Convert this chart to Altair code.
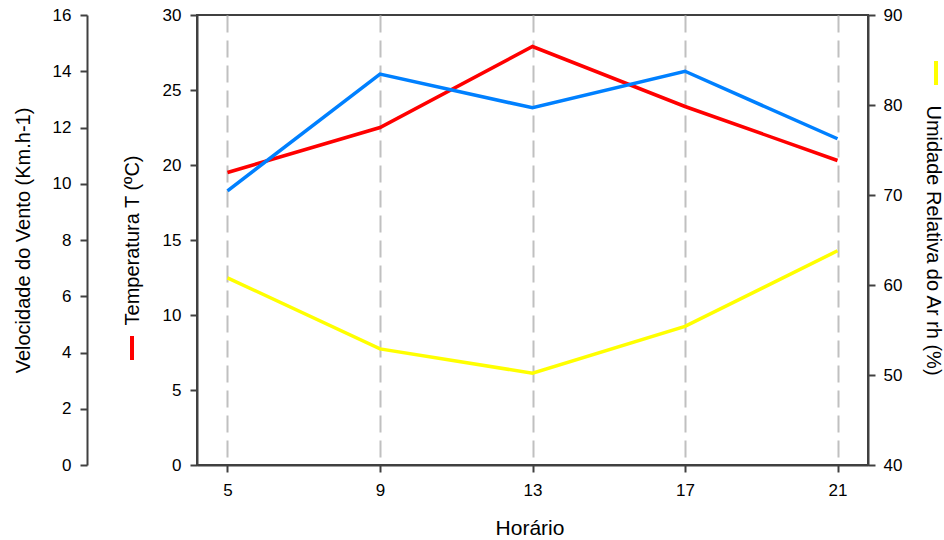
import altair as alt
import pandas as pd

# Hourly readings
horario = [5, 9, 13, 17, 21]
temperatura = [19.5, 22.5, 27.9, 23.9, 20.3]     # T (ºC)
vento = [9.75, 13.9, 12.7, 14.0, 11.6]           # wind speed (Km.h-1)
umidade = [60.8, 52.9, 50.2, 55.4, 63.8]         # relative humidity (%)

df = pd.DataFrame({"horario": horario, "temp": temperatura,
                   "vento": vento, "ur": umidade})

FONT = "Liberation Sans"
AXIS_COLOR = "#404040"

W, H = 671, 450

x_enc = alt.X(
    "horario:Q",
    scale=alt.Scale(domain=[4.2, 21.8], nice=False, zero=False),
    axis=alt.Axis(
        values=horario, title="Horário", grid=True,
        gridDash=[17, 8], gridColor="#c0c0c0", gridWidth=2,
        tickSize=7, labelPadding=10, titleFontSize=21,
        titleFontWeight="normal", titleX=W / 2 - 3, titleY=63,
        titleBaseline="middle",
    ),
)

common_axis = dict(tickSize=7, grid=False, titleFontWeight="normal",
                   titleFontSize=20)

temp_line = alt.Chart(df).mark_line(color="#ff0000", strokeWidth=3.5).encode(
    x=x_enc,
    y=alt.Y("temp:Q", scale=alt.Scale(domain=[0, 30], nice=False),
            axis=alt.Axis(values=list(range(0, 31, 5)),
                          title="Temperatura T (ºC)", orient="left",
                          labelPadding=9, titleX=-65, titleY=H / 2,
                          titleAngle=270, titleBaseline="middle",
                          titleAlign="center", **common_axis)),
)

vento_line = alt.Chart(df).mark_line(color="#0080ff", strokeWidth=3.5).encode(
    x=x_enc,
    y=alt.Y("vento:Q", scale=alt.Scale(domain=[0, 16], nice=False),
            axis=alt.Axis(values=list(range(0, 17, 2)),
                          title="Velocidade do Vento (Km.h-1)", orient="left",
                          offset=110, labelPadding=9, titleX=-64, titleY=H / 2,
                          titleAngle=270, titleBaseline="middle",
                          titleAlign="center", **common_axis)),
)

ur_line = alt.Chart(df).mark_line(color="#ffff00", strokeWidth=3.5).encode(
    x=x_enc,
    y=alt.Y("ur:Q", scale=alt.Scale(domain=[40, 90], nice=False),
            axis=alt.Axis(values=list(range(40, 91, 10)),
                          title="Umidade Relativa do Ar rh (%)", orient="right",
                          labelPadding=8, titleX=64, titleY=H / 2,
                          titleAngle=90, titleBaseline="middle",
                          titleAlign="center", **common_axis)),
)

# Series keys placed beside the axis titles
key_temp = alt.Chart(alt.Data(values=[{}])).mark_rule(
    color="#ff0000", strokeWidth=4).encode(
    x=alt.value(-65), y=alt.value(321), y2=alt.value(345))

key_ur = alt.Chart(alt.Data(values=[{}])).mark_rule(
    color="#ffff00", strokeWidth=4).encode(
    x=alt.value(739), y=alt.value(46), y2=alt.value(70))

chart = (
    alt.layer(temp_line, vento_line, ur_line, key_temp, key_ur)
    .resolve_scale(y="independent")
    .properties(
        width=W, height=H,
        autosize=alt.AutoSizeParams(type="none"),
        padding={"left": 197, "top": 15, "right": 76, "bottom": 75},
        background="white",
    )
    .configure_view(stroke=AXIS_COLOR, strokeWidth=2)
    .configure_axis(
        domainColor=AXIS_COLOR, domainWidth=2, tickColor=AXIS_COLOR,
        tickWidth=2, labelFont=FONT, titleFont=FONT, labelFontSize=17,
        labelColor="black", titleColor="black",
    )
)

chart.save("out.html", embed_options={"renderer": "svg", "actions": False})
